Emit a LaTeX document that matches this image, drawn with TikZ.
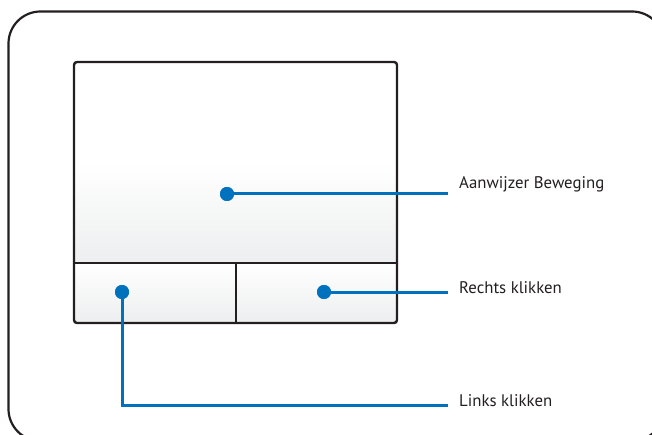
\documentclass[tikz,border=0pt]{standalone}
\usepackage{fontspec}
\setmainfont{PT Sans}
\begin{document}
\begin{tikzpicture}[x=1pt,y=-1pt,
  frame/.style={draw=framegray,line width=2.2pt,line join=round},
  padline/.style={draw=framegray,line width=2.4pt},
  conn/.style={draw=callblue,line width=3pt},
  dot/.style={circle,fill=callblue,inner sep=0pt,minimum size=14pt},
  lbl/.style={inner sep=0pt,anchor=base west,text=txtgray,font=\fontsize{16.8}{18}\selectfont}]
\definecolor{framegray}{HTML}{231F20}
\definecolor{callblue}{HTML}{0071BC}
\definecolor{txtgray}{HTML}{231F20}
\definecolor{padbot}{HTML}{EDEEEF}
\useasboundingbox (0,0) rectangle (652,435);
\begin{scope}
\clip (0,0) rectangle (652,435);
\draw[frame,rounded corners=32pt] (8.5,11.5) rectangle (664,441);
\end{scope}
% pad upper area
\shade[top color=white,bottom color=padbot,middle color=white,shading angle=0]
  (74,62) rectangle (397,263);
\shade[top color=white,bottom color=padbot] (74,263) rectangle (236,323);
\shade[top color=white,bottom color=padbot] (236,263) rectangle (397,323);
\draw[padline,rounded corners=3pt] (74,62) rectangle (397,323);
\draw[padline] (74,263) -- (397,263);
\draw[padline] (236,263) -- (236,323);
% callouts
\node[dot] (d1) at (227,194) {};
\node[dot] (d2) at (324,292) {};
\node[dot] (d3) at (122,292) {};
\coordinate (e1) at (448,194);
\coordinate (e2) at (448,292);
\coordinate (e3) at (448,405);
\coordinate (k3) at (122,405);
\draw[conn] (d1.center) -- (e1);
\draw[conn] (d2.center) -- (e2);
\draw[conn] (d3.center) -- (k3) -- (e3);
\node[dot] at (d1) {};
\node[dot] at (d2) {};
\node[dot] at (d3) {};
\node[lbl] (t1) at (459,189) {Aanwijzer Beweging};
\node[lbl] (t2) at (459,293) {Rechts klikken};
\node[lbl] (t3) at (459,406) {Links klikken};
\end{tikzpicture}
\end{document}
